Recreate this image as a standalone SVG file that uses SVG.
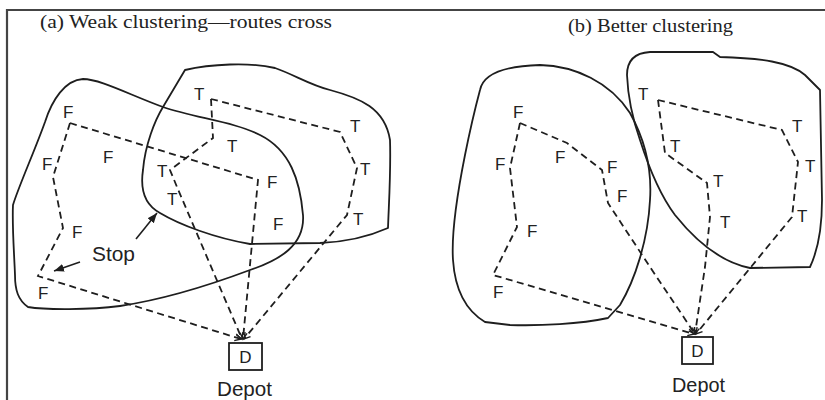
<svg xmlns="http://www.w3.org/2000/svg" width="825" height="400" viewBox="0 0 825 400">
  <defs>
    <style>
      .frame { fill: none; stroke: #444; stroke-width: 2.2; }
      .blob { fill: none; stroke: #1e1e1e; stroke-width: 1.8; stroke-linejoin: round; }
      .route { fill: none; stroke: #1e1e1e; stroke-width: 1.8; stroke-dasharray: 7 4.5; }
      .pointer { fill: none; stroke: #1e1e1e; stroke-width: 1.6; }
      .stop { font-family: "Liberation Sans", Arial, sans-serif; font-size: 17px; fill: #222; }
      .title { font-family: "Liberation Serif", "Times New Roman", serif; font-size: 19px; fill: #222; }
      .label { font-family: "Liberation Sans", Arial, sans-serif; font-size: 20px; fill: #222; }
      .depot { fill: #fff; stroke: #1e1e1e; stroke-width: 1.8; }
    </style>
    <!-- open arrowhead where routes return to the depot -->
    <marker id="into-depot" viewBox="-8 -5 10 10" markerWidth="10" markerHeight="10" markerUnits="userSpaceOnUse" orient="auto" refX="0" refY="0">
      <path d="M-6,-3.5 L0,0 L-6,3.5" fill="none" stroke="#1e1e1e" stroke-width="1.4"/>
    </marker>
    <!-- filled arrowhead for the callout pointers -->
    <marker id="solid-head" viewBox="-10 -5 11 10" markerWidth="11" markerHeight="10" markerUnits="userSpaceOnUse" orient="auto" refX="0" refY="0">
      <path d="M-10,-4 L0,0 L-10,4 Z" fill="#1e1e1e"/>
    </marker>
  </defs>

  <rect width="825" height="400" fill="#fff"/>

  <!-- outer frame -->
  <path class="frame" d="M7,400 L7,10 L825,10"/>

  <!-- titles -->
  <text class="title" x="40" y="28" textLength="292" lengthAdjust="spacingAndGlyphs">(a) Weak clustering—routes cross</text>
  <text class="title" x="568" y="32" textLength="165" lengthAdjust="spacingAndGlyphs">(b) Better clustering</text>

  <!-- panel (a): cluster outlines -->
  <g id="a-cluster-f">
    <path class="blob" d="M13,205 C18,188 35,150 45,122 C52,100 65,80 83,79 C100,79 130,95 163,107 C195,118 235,122 260,135 C290,150 300,180 303,215 C305,245 280,260 250,270 C210,285 160,300 120,306 C90,310 45,310 28,307 C18,300 15,290 15,275 C14,250 12,225 13,205 Z"/>
  </g>
  <g id="a-cluster-t">
    <path class="blob" d="M185,70 C210,64 250,62 275,68 C295,75 310,85 330,90 C360,98 385,108 390,140 C391,170 389,200 388,228 C370,236 345,242 320,243 L250,244 C215,238 180,225 160,213 C145,205 140,190 143,170 C145,145 155,120 163,107 L185,70 Z"/>
  </g>

  <!-- panel (b): cluster outlines -->
  <g id="b-cluster-f">
    <path class="blob" d="M480,90 C483,75 500,66 540,65 C575,66 610,82 630,113 C645,140 652,170 650,200 C648,240 635,280 620,305 L608,318 C580,324 540,326 510,325 L485,322 C465,310 455,290 453,260 C451,230 458,190 465,155 C470,130 476,105 480,90 Z"/>
  </g>
  <g id="b-cluster-t">
    <path class="blob" d="M627,75 C627,62 633,53 650,52 L713,52 L720,57 C760,58 790,62 805,75 L820,90 L822,200 C822,225 818,250 810,267 L750,268 C720,262 695,240 675,215 C660,195 648,165 640,140 C633,120 628,100 627,75 Z"/>
  </g>

  <!-- delivery routes -->
  <g id="routes">
    <path class="route" d="M70,123 L53,177 L63,228 L38,276 L241,339" marker-end="url(#into-depot)"/>
    <path class="route" d="M70,123 L258,180 L243,339" marker-end="url(#into-depot)"/>
    <path class="route" d="M211,99 L213,138 L170,170 L177,187 L242,339" marker-end="url(#into-depot)"/>
    <path class="route" d="M211,99 L340,132 L357,168 L347,215 L244,339" marker-end="url(#into-depot)"/>

    <path class="route" d="M520,123 L510,168 L517,227 L493,275 L694,334" marker-end="url(#into-depot)"/>
    <path class="route" d="M520,123 L567,143 L602,170 L608,203 L650,267 L695,334" marker-end="url(#into-depot)"/>
    <path class="route" d="M658,100 L665,153 L707,183 L710,217 L705,267 L695,334" marker-end="url(#into-depot)"/>
    <path class="route" d="M658,100 L782,130 L798,162 L792,217 L696,334" marker-end="url(#into-depot)"/>

    <path class="pointer" d="M80,262 L54,271" marker-end="url(#solid-head)"/>
    <path class="pointer" d="M136,239 L157,213" marker-end="url(#solid-head)"/>
  </g>

  <!-- panel (a): stops -->
  <g id="a-stops">
    <text class="stop" x="63" y="118">F</text>
    <text class="stop" x="194" y="100">T</text>
    <text class="stop" x="350" y="132">T</text>
    <text class="stop" x="103" y="163">F</text>
    <text class="stop" x="42" y="170">F</text>
    <text class="stop" x="227" y="152">T</text>
    <text class="stop" x="157" y="177">T</text>
    <text class="stop" x="360" y="175">T</text>
    <text class="stop" x="267" y="188">F</text>
    <text class="stop" x="167" y="205">T</text>
    <text class="stop" x="273" y="230">F</text>
    <text class="stop" x="353" y="225">T</text>
    <text class="stop" x="72" y="238">F</text>
    <text class="stop" x="38" y="299">F</text>
    <text class="label" x="92" y="261" textLength="43" lengthAdjust="spacingAndGlyphs">Stop</text>
  </g>

  <!-- panel (b): stops -->
  <g id="b-stops">
    <text class="stop" x="513" y="118">F</text>
    <text class="stop" x="638" y="100">T</text>
    <text class="stop" x="792" y="132">T</text>
    <text class="stop" x="495" y="170">F</text>
    <text class="stop" x="555" y="163">F</text>
    <text class="stop" x="670" y="152">T</text>
    <text class="stop" x="607" y="173">F</text>
    <text class="stop" x="805" y="172">T</text>
    <text class="stop" x="713" y="187">T</text>
    <text class="stop" x="617" y="202">F</text>
    <text class="stop" x="527" y="237">F</text>
    <text class="stop" x="720" y="228">T</text>
    <text class="stop" x="797" y="222">T</text>
    <text class="stop" x="493" y="298">F</text>
  </g>

  <!-- depots -->
  <g id="a-depot">
    <rect class="depot" x="229" y="343" width="33" height="27"/>
    <text class="stop" x="245.5" y="363" text-anchor="middle">D</text>
    <text class="label" x="217" y="396" textLength="55" lengthAdjust="spacingAndGlyphs">Depot</text>
  </g>
  <g id="b-depot">
    <rect class="depot" x="682" y="337" width="31" height="27"/>
    <text class="stop" x="697.5" y="357" text-anchor="middle">D</text>
    <text class="label" x="672" y="392" textLength="53" lengthAdjust="spacingAndGlyphs">Depot</text>
  </g>
</svg>
